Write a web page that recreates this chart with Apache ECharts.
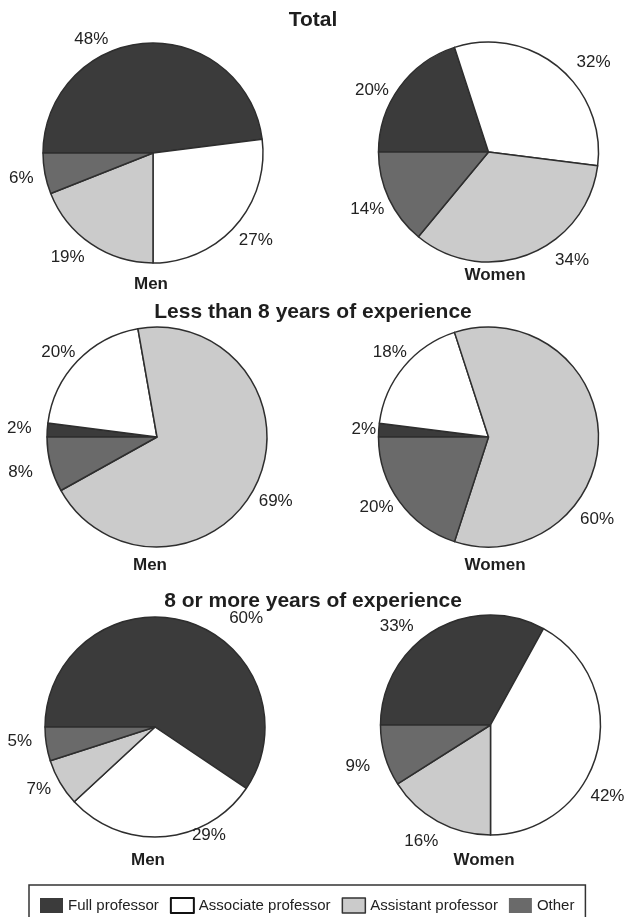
<!DOCTYPE html>
<html>
<head>
<meta charset="utf-8">
<script src="https://cdn.jsdelivr.net/npm/echarts@6/dist/echarts.min.js"></script>
<style>
  html, body { margin: 0; padding: 0; background: #ffffff; }
  #chart { width: 626px; height: 917px; }
</style>
</head>
<body>
<div id="chart"></div>
<script>
// Faculty rank shares (percent), each list ordered like `ranks`
const ranks = ['Full professor', 'Associate professor', 'Assistant professor', 'Other'];
const groupTitles = ['Total', 'Less than 8 years of experience', '8 or more years of experience'];
const sexes = ['Men', 'Women'];

const totalMen     = [48, 27, 19, 6];
const totalWomen   = [20, 32, 34, 14];
const under8Men    = [2, 20, 69, 8];
const under8Women  = [2, 18, 60, 20];
const over8Men     = [60, 29, 7, 5];
const over8Women   = [33, 42, 16, 9];

const pies = [totalMen, totalWomen, under8Men, under8Women, over8Men, over8Women];

// ---- layout & style ----
const FONT = '"Liberation Sans", Arial, Helvetica, sans-serif';
const rankColors = ['#3b3b3b', '#ffffff', '#cbcbcb', '#6a6a6a'];
const pieCenters = [[153, 153], [488.5, 152], [157, 437], [488.5, 437], [155, 727], [490.5, 725]];
const pieRadius = 110;
const startAngle = 180;
// per-label turn away from the slice middle (degrees, ccw) and distance from the centre
const labelTurn = [
  [25, 1, -5, 0],
  [8, -10, 16, 0],
  [0, 3, -3, 0],
  [0, -1, -37, -4],
  [-23, 22, -2, -3],
  [13, -17, -2, 1]
];
const labelDist = [
  [129, 135, 135, 134],
  [132, 138, 137, 134],
  [138, 130, 135, 141],
  [125, 130, 136, 132],
  [142, 121, 132, 136],
  [136, 137, 135, 139]
];
const titlePos = [[313, 20], [313, 312], [313, 601]];
const sexPos = [[151, 284], [495, 275], [150, 565], [495, 565], [148, 860], [484, 860]];

function labelLayoutFor(si) {
  const vals = pies[si];
  const sum = vals.reduce((a, b) => a + b, 0);
  const c = pieCenters[si];
  return function (p) {
    let a = startAngle;
    for (let k = 0; k < p.dataIndex; k++) a -= vals[k] / sum * 360;
    const mid = a - vals[p.dataIndex] / sum * 180 + labelTurn[si][p.dataIndex];
    const rad = mid * Math.PI / 180;
    const d = labelDist[si][p.dataIndex];
    return {
      x: c[0] + d * Math.cos(rad),
      y: c[1] - d * Math.sin(rad),
      align: 'center',
      verticalAlign: 'middle'
    };
  };
}

const series = pies.map((vals, si) => ({
  type: 'pie',
  name: groupTitles[Math.floor(si / 2)] + ' – ' + sexes[si % 2],
  center: pieCenters[si],
  radius: pieRadius,
  startAngle: startAngle,
  clockwise: true,
  avoidLabelOverlap: false,
  silent: true,
  itemStyle: { borderColor: '#2e2e2e', borderWidth: 1.5 },
  label: {
    show: true,
    position: 'outside',
    formatter: '{c}%',
    fontFamily: FONT,
    fontSize: 17,
    color: '#222222'
  },
  labelLine: { show: false },
  labelLayout: labelLayoutFor(si),
  emphasis: { disabled: true },
  data: ranks.map((r, i) => ({ name: r, value: vals[i], itemStyle: { color: rankColors[i] } }))
}));

const titles = [];
groupTitles.forEach((t, i) => {
  titles.push({
    text: t, left: titlePos[i][0], top: titlePos[i][1],
    textAlign: 'center', textVerticalAlign: 'middle', padding: 0,
    textStyle: { fontFamily: FONT, fontSize: 21, fontWeight: 'bold', color: '#1e1e1e' }
  });
});
sexPos.forEach((p, i) => {
  titles.push({
    text: sexes[i % 2], left: p[0], top: p[1],
    textAlign: 'center', textVerticalAlign: 'middle', padding: 0,
    textStyle: { fontFamily: FONT, fontSize: 17, fontWeight: 'bold', color: '#1e1e1e' }
  });
});

const legendIcons = [
  { color: rankColors[0], borderWidth: 0 },
  { color: rankColors[1], borderColor: '#111111', borderWidth: 2 },
  { color: rankColors[2], borderColor: '#333333', borderWidth: 1.5 },
  { color: rankColors[3], borderWidth: 0 }
];

const chart = echarts.init(document.getElementById('chart'), null, { renderer: 'canvas' });
chart.setOption({
  backgroundColor: '#ffffff',
  animation: false,
  title: titles,
  legend: {
    left: 29,
    top: 885,
    orient: 'horizontal',
    padding: [12, 11, 12, 11],
    borderColor: '#333333',
    borderWidth: 1.5,
    backgroundColor: '#ffffff',
    itemWidth: 23,
    itemHeight: 15,
    itemGap: 11,
    selectedMode: false,
    icon: 'rect',
    textStyle: { fontFamily: FONT, fontSize: 15, color: '#222222' },
    data: ranks.map((r, i) => ({ name: r, itemStyle: legendIcons[i] }))
  },
  series: series
});
</script>
</body>
</html>
